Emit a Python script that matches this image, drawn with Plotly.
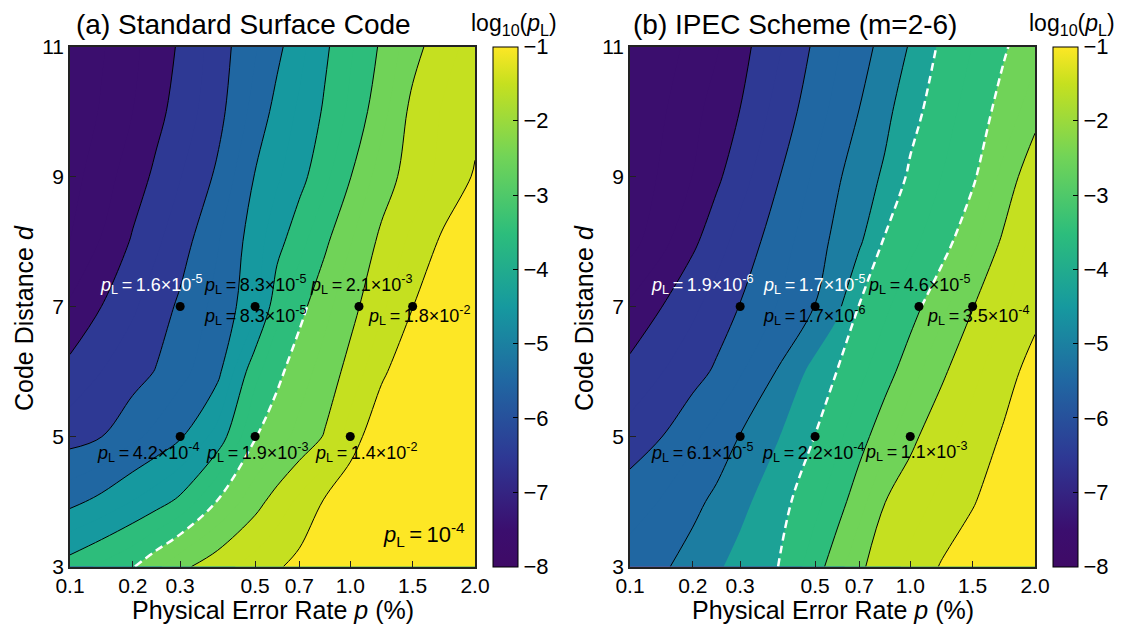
import numpy as np
import plotly.graph_objects as go
from plotly.colors import sample_colorscale

# ---------------- data ----------------
P_TICKS = [0.1, 0.2, 0.3, 0.5, 0.7, 1.0, 1.5, 2.0]
P_TICK_TEXT = ["0.1", "0.2", "0.3", "0.5", "0.7", "1.0", "1.5", "2.0"]
D_TICKS = [3, 5, 7, 9, 11]
CBAR_TICKS = [-8, -7, -6, -5, -4, -3, -2, -1]

# grid of physical error rates (%) and code distances
P_GRID = [0.1, 0.15, 0.2, 0.25, 0.3, 0.4, 0.5, 0.6, 0.7, 0.85, 1.0, 1.25, 1.5, 1.75, 2.0]
D_GRID = [3, 4, 5, 6, 7, 8, 9, 10, 11]

# log10(p_L), rows = D_GRID, columns = P_GRID
LOGPL_A = [
    [-3.75, -3.40, -3.04, -2.60, -2.14, -1.68, -1.29, -1.06, -0.85, -0.60, -0.40, -0.20, -0.10, 0.00, 0.00],
    [-5.15, -4.85, -4.48, -4.21, -3.88, -2.97, -2.19, -1.78, -1.39, -0.95, -0.60, -0.30, -0.10, 0.00, 0.00],
    [-6.20, -6.01, -5.62, -5.35, -5.06, -4.31, -3.03, -2.69, -2.36, -1.96, -1.26, -0.60, -0.30, -0.10, 0.00],
    [-6.85, -6.50, -6.22, -5.97, -5.65, -5.14, -3.65, -3.13, -2.72, -2.30, -1.83, -1.10, -0.60, -0.30, -0.10],
    [-7.42, -7.00, -6.57, -6.25, -5.91, -5.34, -4.66, -3.67, -3.16, -2.65, -2.17, -1.59, -1.01, -0.60, -0.30],
    [-8.00, -7.47, -6.94, -6.58, -6.22, -5.54, -4.74, -4.18, -3.67, -3.10, -2.53, -1.88, -1.39, -0.90, -0.60],
    [-8.20, -7.72, -7.25, -6.89, -6.52, -5.91, -4.97, -4.57, -4.18, -3.63, -3.02, -2.27, -1.75, -1.35, -0.95],
    [-8.40, -7.95, -7.50, -7.15, -6.79, -6.17, -5.33, -4.83, -4.42, -3.93, -3.40, -2.68, -1.85, -1.45, -1.15],
    [-8.50, -8.06, -7.60, -7.28, -6.93, -6.26, -5.55, -5.13, -4.66, -4.10, -3.57, -2.92, -2.20, -1.65, -1.35],
]
LOGPL_B = [
    [-5.30, -5.08, -4.80, -4.57, -4.34, -4.01, -3.23, -2.70, -2.10, -1.71, -1.37, -0.96, -0.70, -0.45, -0.20],
    [-5.70, -5.47, -5.13, -4.89, -4.63, -4.21, -3.64, -3.22, -2.71, -2.01, -1.72, -1.38, -1.04, -0.70, -0.40],
    [-6.30, -6.01, -5.60, -5.29, -4.98, -4.53, -3.99, -3.61, -3.21, -2.69, -2.12, -1.69, -1.31, -0.94, -0.60],
    [-6.85, -6.52, -6.20, -5.92, -5.55, -4.97, -4.33, -3.99, -3.63, -3.21, -2.73, -2.09, -1.63, -1.20, -0.80],
    [-7.40, -7.01, -6.60, -6.29, -5.98, -5.48, -4.99, -4.62, -3.98, -3.59, -3.20, -2.64, -2.02, -1.55, -1.15],
    [-8.20, -7.65, -7.10, -6.71, -6.32, -5.74, -5.19, -4.88, -4.58, -3.95, -3.62, -3.22, -2.62, -1.90, -1.35],
    [-8.40, -7.93, -7.49, -7.10, -6.70, -6.04, -5.42, -5.06, -4.77, -4.42, -3.91, -3.50, -3.09, -2.35, -1.60],
    [-8.50, -8.07, -7.64, -7.31, -6.99, -6.33, -5.70, -5.35, -4.99, -4.64, -4.19, -3.71, -3.29, -2.81, -2.20],
    [-8.60, -8.25, -7.85, -7.55, -7.18, -6.58, -5.91, -5.56, -5.21, -4.83, -4.46, -3.91, -3.49, -3.06, -2.65],
]

# highlighted operating points
DOT_P = [0.3, 0.5, 1.07, 1.5, 0.3, 0.5, 1.0]
DOT_D = [7, 7, 7, 7, 5, 5, 5]

# labelled logical error rates
LABEL_P = [0.3, 0.5, 1.07, 0.5, 1.5, 0.3, 0.5, 1.0]
LABEL_D = [7, 7, 7, 7, 7, 5, 5, 5]
MANT_A = ["1.6", "8.3", "2.1", "8.3", "1.8", "4.2", "1.9", "1.4"]
EXP_A = [-5, -5, -3, -5, -2, -4, -3, -2]
MANT_B = ["1.9", "1.7", "4.6", "1.7", "3.5", "6.1", "2.2", "1.1"]
EXP_B = [-6, -5, -5, -6, -4, -5, -4, -3]

# ---------------- style ----------------
FONT = "Liberation Sans, Arial, Helvetica, sans-serif"
W, H = 1122, 632
AXIS_POS = [0.0, 0.155, 0.272, 0.457, 0.566, 0.692, 0.846, 1.0]  # where each tick sits along the axis
LABEL_COL_A = ["white", "black", "black", "black", "black", "black", "black", "black"]
LABEL_COL_B = ["white", "white", "black", "black", "black", "black", "black", "black"]
SHIFT_A = [(-29, 22), (0, 22), (3, 22), (0, -9), (7, -9), (-32, -16), (2, -16), (16, -16)]
SHIFT_B = [(-38, 22), (-1, 22), (1, 22), (-1, -9), (6, -9), (-38, -16), (-2, -16), (6, -15)]

# viridis-like map, slightly more saturated as in the reference
CMAP = [[0.00, "#3f0a66"], [0.07, "#3b0e6e"], [0.21, "#2e3894"], [0.36, "#2068a2"],
        [0.50, "#16999f"], [0.64, "#2cbd7c"], [0.79, "#72d457"], [0.93, "#c6e01f"],
        [1.00, "#fde725"]]
TS = "\u2009"


def pos(p):
    return np.interp(p, P_TICKS, AXIS_POS)


def cm(f):
    return sample_colorscale(CMAP, [float(min(max(f, 0), 1))])[0]


def band_color(L, panel):
    if L >= -1:
        return cm(1)
    if panel == "b" and abs(L + 5) < 1e-9:
        return cm(0.42)
    if panel == "b" and abs(L + 4.5) < 1e-9:
        return cm(0.535)
    n = max(np.floor(L), -8)
    return cm((n + 8.5) / 7)


def step_scale(panel):
    levels = np.arange(-8, -0.99, 0.5)
    prev = band_color(-8.5, panel)
    cs = [[0.0, prev]]
    for L in levels:
        sb = float((L + 8.25) / 7.5)
        cs.append([sb, prev])
        c = band_color(L, panel)
        cs.append([sb, c])
        prev = c
    cs.append([1.0, prev])
    return cs


BLACK = [[0, "black"], [1, "black"]]
XDOM = {"a": [70 / W, 475 / W], "b": [630 / W, 1035 / W]}
YDOM = [(H - 566.5) / H, (H - 46.5) / H]

fig = go.Figure()


def add_panel(panel, Z, xa, ya, mant, exps, lcols, shifts, cbx):
    Z = np.array(Z)
    xg = pos(P_GRID)
    d = np.array(D_GRID)
    up = d >= 7
    lo = d <= 7
    common = dict(xaxis=xa, yaxis=ya, showscale=False, hoverinfo="skip")
    # filled bands
    fig.add_trace(go.Contour(x=xg, y=d, z=Z, autocontour=False,
                             contours=dict(start=-8, end=-1, size=0.5, coloring="fill", showlines=False),
                             colorscale=step_scale(panel), line=dict(width=0), **common))
    # black iso-lines
    ranges = [(-7, -4), (-2, -1)] if panel == "a" else [(-7, -5), (-2, -1)]
    for a, b in ranges:
        fig.add_trace(go.Contour(x=xg, y=d, z=Z, autocontour=False,
                                 contours=dict(start=a, end=b, size=1, coloring="lines"),
                                 colorscale=BLACK, line=dict(width=1), **common))

    def iso(value, rows, color, width, dash):
        fig.add_trace(go.Contour(x=xg, y=d[rows], z=Z[rows],
                                 contours=dict(type="constraint", operation="=", value=value),
                                 line=dict(color=color, width=width, dash=dash), **common))

    wdash = dict(color="white", width=2.5, dash="8px,5px")
    if panel == "a":
        iso(-3, up, "black", 1, "solid")
        iso(-3, lo, **wdash)
    else:
        iso(-4.5, up, "black", 1, "solid")
        iso(-4, np.ones_like(d, bool), **wdash)
        iso(-3, up, **wdash)
        iso(-3, lo, "black", 1, "solid")

    # dots
    fig.add_trace(go.Scatter(x=pos(DOT_P), y=DOT_D, mode="markers", xaxis=xa, yaxis=ya,
                             marker=dict(color="black", size=9), hoverinfo="skip", showlegend=False))
    # colorbar carrier
    cbar = dict(x=cbx / W, xanchor="left", y=sum(YDOM) / 2, yanchor="middle", len=520,
                lenmode="pixels", thickness=25, thicknessmode="pixels", outlinewidth=1,
                outlinecolor="black", tickvals=CBAR_TICKS, ticks="inside", ticklen=5,
                tickcolor="black", xpad=0, ypad=0,
                tickfont=dict(family=FONT, size=22, color="black"))
    mk = dict(size=1, opacity=0, color=[-4], cmin=-8, cmax=-1, colorscale=CMAP,
              showscale=True, colorbar=cbar)
    fig.add_trace(go.Scatter(x=[0.5], y=[7], mode="markers", xaxis=xa, yaxis=ya,
                             hoverinfo="skip", showlegend=False, marker=mk))
    # labels
    for p, dd, m, e, c, (sx, sy) in zip(LABEL_P, LABEL_D, mant, exps, lcols, shifts):
        fig.add_annotation(x=float(pos(p)), y=dd, xref=xa, yref=ya, showarrow=False,
                           text=f"<i>p</i><sub>L</sub>{TS}={TS}{m}×10<sup>{e}</sup>",
                           font=dict(family=FONT, size=18, color=c), xshift=sx, yshift=sy)


add_panel("a", LOGPL_A, "x", "y", MANT_A, EXP_A, LABEL_COL_A, SHIFT_A, 493)
add_panel("b", LOGPL_B, "x2", "y2", MANT_B, EXP_B, LABEL_COL_B, SHIFT_B, 1053)

axis_common = dict(showline=True, linewidth=1.5, linecolor="#222", mirror=True, ticks="inside",
                   ticklen=6, tickwidth=1.2, tickcolor="#222", showgrid=False, zeroline=False,
                   automargin=False, tickfont=dict(family=FONT, size=21, color="black"))
for xa, ya, key in [("xaxis", "yaxis", "a"), ("xaxis2", "yaxis2", "b")]:
    anchor_y = "y" if key == "a" else "y2"
    anchor_x = "x" if key == "a" else "x2"
    fig.layout[xa] = dict(domain=XDOM[key], range=[0, 1], anchor=anchor_y,
                          tickvals=list(AXIS_POS), ticktext=P_TICK_TEXT, **axis_common)
    fig.layout[ya] = dict(domain=YDOM, range=[3, 11], anchor=anchor_x, tickvals=D_TICKS, **axis_common)


def txt(x, y, text, size, angle=0):
    fig.add_annotation(x=x / W, y=1 - y / H, xref="paper", yref="paper", text=text, showarrow=False,
                       font=dict(family=FONT, size=size, color="black"), textangle=angle,
                       xanchor="center", yanchor="middle")


txt(243, 25, "(a) Standard Surface Code", 28)
txt(795, 25, "(b) IPEC Scheme (m=2-6)", 28)
txt(514, 25, "log<sub>10</sub>(<i>p</i><sub>L</sub>)", 23)
txt(1072, 25, "log<sub>10</sub>(<i>p</i><sub>L</sub>)", 23)
txt(273, 610, "Physical Error Rate <i>p</i> (%)", 25)
txt(833, 610, "Physical Error Rate <i>p</i> (%)", 25)
txt(24, 318, "Code Distance <i>d</i>", 25, angle=-90)
txt(584, 318, "Code Distance <i>d</i>", 25, angle=-90)
txt(424, 534, f"<i>p</i><sub>L</sub>{TS}={TS}10<sup>-4</sup>", 22)

fig.update_layout(width=W, height=H, margin=dict(l=0, r=0, t=0, b=0, autoexpand=False),
                  paper_bgcolor="white", plot_bgcolor="white", showlegend=False,
                  font=dict(family=FONT))

fig.write_html("out.html", config={"displayModeBar": False},
               post_script="document.body.style.margin='0';document.body.style.overflow='hidden';")
